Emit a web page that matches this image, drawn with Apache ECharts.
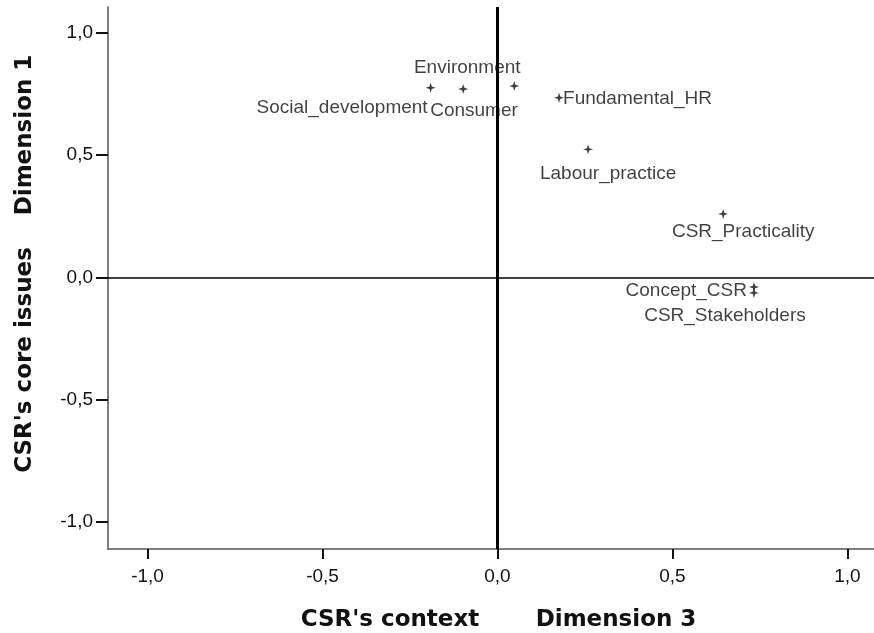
<!DOCTYPE html>
<html>
<head>
<meta charset="utf-8">
<script src="https://cdn.jsdelivr.net/npm/echarts@6/dist/echarts.min.js"></script>
<style>
  html, body { margin: 0; padding: 0; background: #fff; }
  #chart { width: 874px; height: 633px; }
</style>
</head>
<body>
<div id="chart"></div>
<script>
// category names and coordinates
var names = ['Social_development', 'Consumer', 'Environment', 'Fundamental_HR',
  'Labour_practice', 'CSR_Practicality', 'Concept_CSR', 'CSR_Stakeholders'];
var dim3 = [-0.191, -0.098, 0.048, 0.176, 0.259, 0.645, 0.733, 0.733];
var dim1 = [0.776, 0.771, 0.783, 0.735, 0.524, 0.260, -0.039, -0.063];
var tickValues = [-1, -0.5, 0, 0.5, 1];

// label placement (align, dx, dy) so the names sit like in the source
var labelPlace = [
  ['right', -3, 20], ['left', -33, 22], ['center', -47, -18], ['left', 4, 1],
  ['center', 20, 24], ['center', 20, 18], ['right', -7, 4], ['center', -29, 23]
];

var fontLbl = 'Liberation Sans';
var fontTitle = 'DejaVu Sans';
function fmt(v) { return v.toFixed(1).replace('.', ','); }

var pts = [];
for (var i = 0; i < names.length; i++) {
  pts.push({
    name: names[i],
    value: [dim3[i], dim1[i]],
    label: { align: labelPlace[i][0], offset: [labelPlace[i][1], labelPlace[i][2]] }
  });
}

var myChart = echarts.init(document.getElementById('chart'));
var option = {
  backgroundColor: '#fff',
  animation: false,
  grid: { left: 108, right: 0, top: 7, bottom: 84 },
  xAxis: {
    type: 'value', min: -1.113, max: 1.076,
    splitLine: { show: false },
    axisLine: { onZero: false, lineStyle: { color: '#555', width: 1.5 } },
    axisTick: { customValues: tickValues, length: 10, lineStyle: { color: '#111', width: 2 } },
    axisLabel: { customValues: tickValues, formatter: fmt, margin: 18,
      fontFamily: fontLbl, fontSize: 19, color: '#111' }
  },
  yAxis: {
    type: 'value', min: -1.110, max: 1.106,
    splitLine: { show: false },
    axisLine: { onZero: false, show: true, lineStyle: { color: '#555', width: 1.5 } },
    axisTick: { show: true, customValues: tickValues, length: 12, lineStyle: { color: '#111', width: 2 } },
    axisLabel: { customValues: tickValues, formatter: fmt, margin: 15,
      fontFamily: fontLbl, fontSize: 19, color: '#111' }
  },
  series: [{
    type: 'scatter',
    symbol: 'path://M5,0 L6.2,3.8 L10,5 L6.2,6.2 L5,10 L3.8,6.2 L0,5 L3.8,3.8 Z',
    symbolSize: 10,
    itemStyle: { color: '#111' },
    label: {
      show: true, position: 'inside', formatter: '{b}',
      fontFamily: fontLbl, fontSize: 19, color: '#111', textBorderWidth: 0
    },
    data: pts,
    markLine: {
      silent: true, symbol: 'none', label: { show: false },
      data: [
        { xAxis: 0, lineStyle: { color: '#000', width: 3, type: 'solid' } },
        { yAxis: 0, lineStyle: { color: '#000', width: 1.5, type: 'solid' } }
      ]
    }
  }],
  graphic: [
    { type: 'text', x: 390, y: 620, style: { text: "CSR's context", fontFamily: fontTitle, fontWeight: 'bold',
      fontSize: 23, fill: '#111', textAlign: 'center', textVerticalAlign: 'middle' } },
    { type: 'text', x: 616, y: 620, style: { text: 'Dimension 3', fontFamily: fontTitle, fontWeight: 'bold',
      fontSize: 23, fill: '#111', textAlign: 'center', textVerticalAlign: 'middle' } },
    { type: 'text', x: 25, y: 360, rotation: Math.PI / 2, style: { text: "CSR's core issues", fontFamily: fontTitle,
      fontWeight: 'bold', fontSize: 23, fill: '#111', textAlign: 'center', textVerticalAlign: 'middle' } },
    { type: 'text', x: 25, y: 135, rotation: Math.PI / 2, style: { text: 'Dimension 1', fontFamily: fontTitle,
      fontWeight: 'bold', fontSize: 23, fill: '#111', textAlign: 'center', textVerticalAlign: 'middle' } }
  ]
};
myChart.setOption(option);
</script>
</body>
</html>
